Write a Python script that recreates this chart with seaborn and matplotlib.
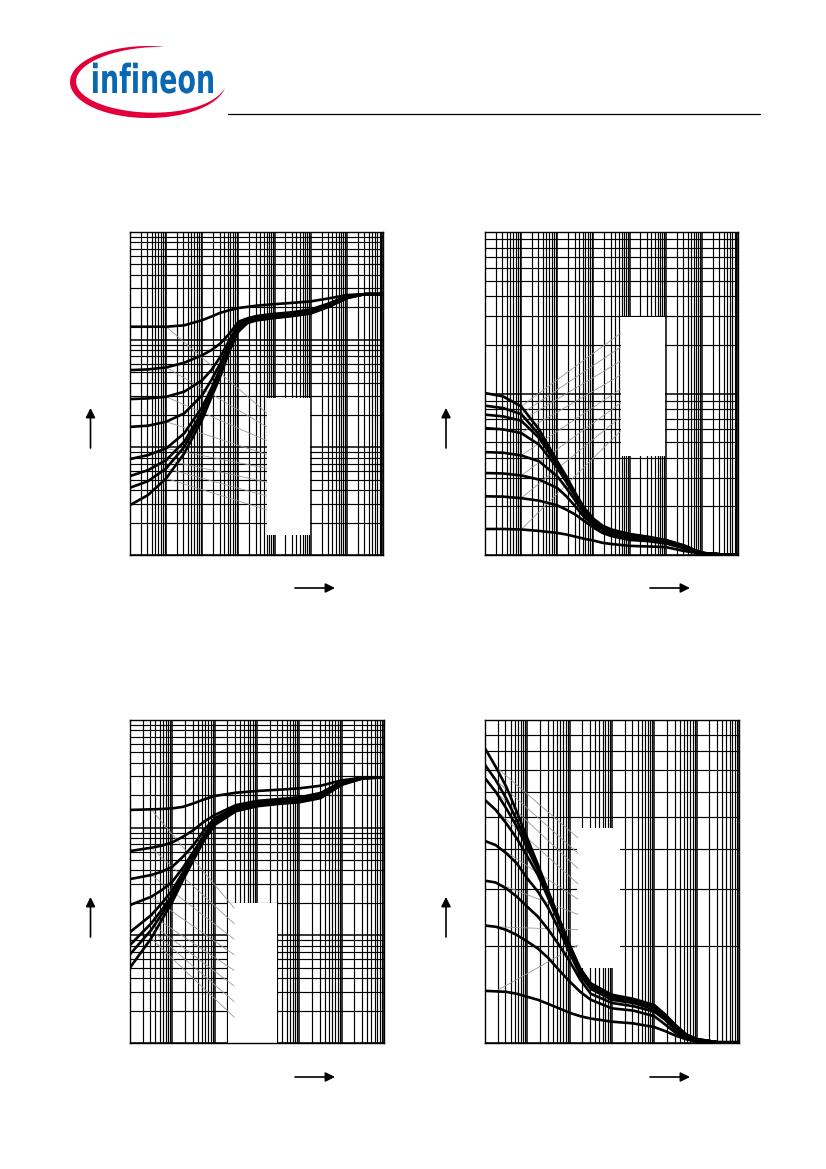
import numpy as np
import pandas as pd
import matplotlib
matplotlib.use("Agg")
import matplotlib.pyplot as plt
import seaborn as sns
from matplotlib.ticker import LogLocator, NullFormatter
from matplotlib.patches import Rectangle, PathPatch
from matplotlib.textpath import TextPath
from matplotlib.font_manager import FontProperties
from matplotlib.transforms import Affine2D

# ---- top left panel (7 decades x 3 decades) ----
tl_x = [1e-6, 3.16e-6, 1e-5, 3.16e-5, 1e-4, 1.78e-4, 3.16e-4, 5.62e-4, 1e-3,
        1.78e-3, 3.16e-3, 1e-2, 3.16e-2, 0.1, 0.316, 1.0, 3.16, 10.0]
tl_c1 = [0.132, 0.132, 0.132, 0.136, 0.152, 0.164, 0.178, 0.188, 0.197, 0.202, 0.207, 0.214, 0.220, 0.227, 0.242, 0.260, 0.265, 0.265]
tl_c2 = [0.0522, 0.0530, 0.0553, 0.0611, 0.0719, 0.0801, 0.0923, 0.114, 0.147, 0.158, 0.166, 0.174, 0.180, 0.191, 0.217, 0.254, 0.265, 0.265]
tl_c3 = [0.0281, 0.0285, 0.0295, 0.0329, 0.0422, 0.0522, 0.0694, 0.0992, 0.140, 0.154, 0.162, 0.170, 0.177, 0.187, 0.214, 0.252, 0.265, 0.265]
tl_c4 = [0.0155, 0.0159, 0.0173, 0.0207, 0.0306, 0.0422, 0.0602, 0.0923, 0.134, 0.151, 0.160, 0.168, 0.174, 0.184, 0.211, 0.250, 0.265, 0.265]
tl_c5 = [0.00779, 0.00848, 0.00978, 0.0135, 0.0238, 0.0353, 0.0541, 0.0872, 0.130, 0.149, 0.158, 0.166, 0.172, 0.182, 0.208, 0.249, 0.265, 0.265]
tl_c6 = [0.00541, 0.00615, 0.00762, 0.0113, 0.0214, 0.0329, 0.0504, 0.0842, 0.126, 0.147, 0.155, 0.163, 0.169, 0.179, 0.207, 0.247, 0.265, 0.265]
tl_c7 = [0.00422, 0.00486, 0.00638, 0.0101, 0.0200, 0.0313, 0.0486, 0.0812, 0.123, 0.145, 0.153, 0.161, 0.167, 0.177, 0.205, 0.245, 0.265, 0.265]
tl_c8 = [0.00291, 0.00361, 0.00515, 0.00879, 0.0182, 0.0291, 0.0459, 0.0784, 0.119, 0.143, 0.151, 0.159, 0.166, 0.175, 0.202, 0.243, 0.265, 0.265]

# ---- top right panel (7 decades x 2 decades) ----
tr_x = tl_x
tr_c1 = [0.1007, 0.0960, 0.0833, 0.0597, 0.0380, 0.0307, 0.0242, 0.0195, 0.0168, 0.0152, 0.0144, 0.0135, 0.0130, 0.0124, 0.0115, 0.0103, 0.0101, 0.0101]
tr_c2 = [0.0841, 0.0813, 0.0747, 0.0556, 0.0371, 0.0300, 0.0238, 0.0193, 0.0166, 0.0150, 0.0142, 0.0134, 0.0129, 0.0123, 0.0114, 0.0103, 0.0101, 0.0101]
tr_c3 = [0.0740, 0.0722, 0.0679, 0.0530, 0.0362, 0.0293, 0.0236, 0.0190, 0.0165, 0.0149, 0.0141, 0.0132, 0.0128, 0.0123, 0.0114, 0.0103, 0.0101, 0.0101]
tr_c4 = [0.0611, 0.0600, 0.0569, 0.0482, 0.0346, 0.0283, 0.0230, 0.0186, 0.0162, 0.0148, 0.0139, 0.0131, 0.0127, 0.0122, 0.0113, 0.0103, 0.0101, 0.0101]
tr_c5 = [0.0434, 0.0430, 0.0414, 0.0380, 0.0307, 0.0260, 0.0217, 0.0179, 0.0159, 0.0145, 0.0137, 0.0130, 0.0126, 0.0121, 0.0113, 0.0103, 0.0101, 0.0101]
tr_c6 = [0.0322, 0.0320, 0.0311, 0.0293, 0.0260, 0.0231, 0.0200, 0.0171, 0.0154, 0.0142, 0.0135, 0.0128, 0.0124, 0.0120, 0.0112, 0.0103, 0.0101, 0.0101]
tr_c7 = [0.0231, 0.0230, 0.0225, 0.0217, 0.0203, 0.0191, 0.0178, 0.0162, 0.0148, 0.0137, 0.0131, 0.0124, 0.0122, 0.0118, 0.0110, 0.0102, 0.0101, 0.0101]
tr_c8 = [0.0145, 0.0145, 0.0144, 0.0141, 0.0137, 0.0134, 0.0130, 0.0126, 0.0123, 0.0119, 0.0117, 0.0114, 0.0113, 0.0112, 0.0106, 0.0102, 0.0101, 0.0101]

# ---- bottom left panel (6 decades x 3 decades) ----
bl_x = [1e-5, 3.16e-5, 5.62e-5, 1e-4, 1.78e-4, 3.16e-4, 5.62e-4, 1e-3,
        3.16e-3, 1e-2, 3.16e-2, 0.1, 0.316, 1.0, 3.16, 10.0]
bl_c1 = [0.146, 0.148, 0.149, 0.151, 0.156, 0.168, 0.183, 0.197, 0.211, 0.219, 0.225, 0.232, 0.245, 0.275, 0.291, 0.293]
bl_c2 = [0.0606, 0.0651, 0.0680, 0.0730, 0.0824, 0.0950, 0.114, 0.131, 0.162, 0.177, 0.184, 0.191, 0.210, 0.267, 0.291, 0.293]
bl_c3 = [0.0333, 0.0363, 0.0390, 0.0434, 0.0537, 0.0689, 0.0950, 0.122, 0.155, 0.172, 0.179, 0.186, 0.204, 0.261, 0.291, 0.293]
bl_c4 = [0.0191, 0.0228, 0.0263, 0.0315, 0.0425, 0.0598, 0.0854, 0.115, 0.151, 0.167, 0.175, 0.182, 0.199, 0.258, 0.289, 0.293]
bl_c5 = [0.0107, 0.0154, 0.0198, 0.0263, 0.0384, 0.0557, 0.0824, 0.112, 0.148, 0.164, 0.173, 0.179, 0.197, 0.256, 0.289, 0.293]
bl_c6 = [0.00813, 0.0129, 0.0172, 0.0237, 0.0363, 0.0537, 0.0806, 0.110, 0.146, 0.162, 0.170, 0.177, 0.194, 0.254, 0.289, 0.293]
bl_c7 = [0.00666, 0.0112, 0.0157, 0.0220, 0.0345, 0.0518, 0.0783, 0.107, 0.144, 0.160, 0.168, 0.174, 0.191, 0.252, 0.287, 0.293]
bl_c8 = [0.00501, 0.00937, 0.0139, 0.0205, 0.0326, 0.0500, 0.0761, 0.106, 0.142, 0.158, 0.166, 0.172, 0.188, 0.250, 0.287, 0.293]

# ---- bottom right panel (6 decades x 1 decade) ----
br_x = [1e-5, 1.78e-5, 3.16e-5, 5.62e-5, 1e-4, 1.78e-4, 3.16e-4, 5.62e-4, 1e-3,
        1.78e-3, 3.16e-3, 1e-2, 3.16e-2, 0.1, 0.178, 0.316, 0.562, 1.0, 3.16, 10.0]
br_c1 = [8.17, 7.17, 6.22, 5.20, 4.30, 3.56, 2.94, 2.43, 2.01, 1.70, 1.53, 1.41, 1.37, 1.31, 1.227, 1.137, 1.064, 1.029, 1.005, 1.005]
br_c2 = [7.26, 6.52, 5.72, 4.90, 4.15, 3.49, 2.91, 2.41, 2.00, 1.69, 1.52, 1.40, 1.36, 1.30, 1.221, 1.13, 1.061, 1.027, 1.005, 1.005]
br_c3 = [6.60, 6.00, 5.33, 4.68, 4.01, 3.43, 2.87, 2.39, 1.98, 1.68, 1.51, 1.39, 1.35, 1.30, 1.215, 1.126, 1.059, 1.027, 1.005, 1.005]
br_c4 = [5.65, 5.27, 4.79, 4.30, 3.78, 3.31, 2.80, 2.35, 1.95, 1.66, 1.49, 1.38, 1.34, 1.29, 1.209, 1.12, 1.056, 1.024, 1.005, 1.005]
br_c5 = [4.22, 4.10, 3.87, 3.60, 3.23, 2.94, 2.61, 2.24, 1.90, 1.62, 1.47, 1.36, 1.33, 1.27, 1.198, 1.11, 1.051, 1.022, 1.005, 1.005]
br_c6 = [3.18, 3.14, 3.01, 2.84, 2.64, 2.46, 2.24, 2.01, 1.79, 1.57, 1.42, 1.33, 1.30, 1.25, 1.181, 1.097, 1.046, 1.019, 1.005, 1.005]
br_c7 = [2.31, 2.29, 2.24, 2.16, 2.06, 1.96, 1.83, 1.68, 1.55, 1.44, 1.36, 1.28, 1.26, 1.21, 1.142, 1.076, 1.039, 1.014, 1.005, 1.005]
br_c8 = [1.45, 1.445, 1.44, 1.42, 1.39, 1.36, 1.32, 1.28, 1.24, 1.21, 1.19, 1.164, 1.15, 1.12, 1.089, 1.054, 1.027, 1.01, 1.005, 1.005]

sns.set_style("white")
plt.rcParams['font.family'] = ['DejaVu Sans']

fig = plt.figure(figsize=(8.26, 11.69), dpi=100)


def panel(rect, xs, curves, xlim, ylim, box, lead_i, lead_x, lead_y):
    ax = fig.add_axes(rect)
    ax.set_xscale('log')
    ax.set_yscale('log')
    df = pd.concat([pd.DataFrame({'x': xs, 'y': c, 'curve': k})
                    for k, c in enumerate(curves)], ignore_index=True)
    sns.lineplot(data=df, x='x', y='y', units='curve', estimator=None,
                 sort=False, color='black', linewidth=1.9, ax=ax,
                 legend=False, zorder=3)
    ax.set_xlim(*xlim)
    ax.set_ylim(*ylim)
    ax.set_xlabel('')
    ax.set_ylabel('')
    for axis in (ax.xaxis, ax.yaxis):
        axis.set_major_locator(LogLocator(base=10, numticks=100))
        axis.set_minor_locator(LogLocator(base=10, subs=np.arange(2, 10), numticks=100))
        axis.set_minor_formatter(NullFormatter())
    ax.tick_params(which='both', length=0, labelbottom=False, labelleft=False)
    ax.set_axisbelow(True)
    ax.grid(True, which='major', color='black', lw=1.1)
    ax.grid(True, which='minor', color='black', lw=0.85)
    for s in ax.spines.values():
        s.set_color('black')
        s.set_linewidth(1.0)
    # white label box (text removed in the reference)
    ax.add_patch(Rectangle((box[0], box[1]), box[2], box[3], transform=ax.transAxes,
                           facecolor='white', edgecolor='none', zorder=1))
    # grey leader lines from curves to the label box
    for c, ly in zip(curves, lead_y):
        ax.annotate('', xy=(lead_x, ly), xycoords='axes fraction',
                    xytext=(xs[lead_i], c[lead_i]), textcoords='data',
                    arrowprops=dict(arrowstyle='-', color='0.6', lw=0.6,
                                    shrinkA=0, shrinkB=0), zorder=2)
    return ax


panel([0.1574, 0.5252, 0.3063, 0.2763], tl_x,
      [tl_c1, tl_c2, tl_c3, tl_c4, tl_c5, tl_c6, tl_c7, tl_c8],
      (1e-6, 1e1), (1e-3, 1), (0.540, 0.062, 0.171, 0.424),
      2, 0.540, np.linspace(0.44, 0.14, 8))

panel([0.5872, 0.5252, 0.3063, 0.2763], tr_x,
      [tr_c1, tr_c2, tr_c3, tr_c4, tr_c5, tr_c6, tr_c7, tr_c8],
      (1e-6, 1e1), (1e-2, 1), (0.536, 0.307, 0.175, 0.430),
      2, 0.536, np.linspace(0.687, 0.384, 8))

panel([0.1574, 0.1078, 0.3075, 0.2763], bl_x,
      [bl_c1, bl_c2, bl_c3, bl_c4, bl_c5, bl_c6, bl_c7, bl_c8],
      (1e-5, 1e1), (1e-3, 1), (0.386, 0.0, 0.193, 0.433),
      1, 0.41, np.linspace(0.418, 0.080, 8))

panel([0.5872, 0.1078, 0.3075, 0.2763], br_x,
      [br_c1, br_c2, br_c3, br_c4, br_c5, br_c6, br_c7, br_c8],
      (1e-5, 1e1), (1, 10), (0.362, 0.232, 0.169, 0.434),
      1, 0.366, np.linspace(0.635, 0.303, 8))

# ---- page decorations in pixel coordinates ----
ov = fig.add_axes([0, 0, 1, 1])
ov.set_xlim(0, 826)
ov.set_ylim(1169, 0)
ov.axis('off')

ov.plot([228, 760], [114, 114], color='black', lw=0.9)

arrow = dict(arrowstyle='-|>', color='black', lw=1.2, mutation_scale=14,
             shrinkA=0, shrinkB=0)
for ax_x, y0, y1 in [(90.5, 448, 408), (446, 448, 408), (90.5, 937, 897), (446, 937, 897)]:
    ov.annotate('', xy=(ax_x, y1), xytext=(ax_x, y0), arrowprops=arrow)
for ay_y, x0, x1 in [(588, 295, 335), (588, 650, 690), (1077, 295, 335), (1077, 650, 690)]:
    ov.annotate('', xy=(x1, ay_y), xytext=(x0, ay_y), arrowprops=arrow)

# logo swoosh
th = np.radians(np.linspace(10, 282, 200))
thick = 6.5 * np.sin(np.pi * (th - th[0]) / (th[-1] - th[0])) ** 0.8
cx, cy, a, b = 148, 82, 78, 36
outer_x = cx + a * np.cos(th)
outer_y = cy + b * np.sin(th)
inner_x = cx + (a - thick) * np.cos(th)
inner_y = cy + (b - thick) * np.sin(th)
ov.fill(np.concatenate([outer_x, inner_x[::-1]]),
        np.concatenate([outer_y, inner_y[::-1]]), color='#e2003a', lw=0)

# logo word
tp = TextPath((0, 0), 'infineon', size=1,
              prop=FontProperties(family='DejaVu Sans', weight='bold'))
ext = tp.get_extents()
sx = 120 / ext.width
tr = Affine2D().translate(-ext.x0, 0).scale(sx, -40).translate(93, 93) + ov.transData
ov.add_patch(PathPatch(tp, transform=tr, facecolor='#0a68b2', edgecolor='none'))

fig.savefig('out.png', dpi=100)
